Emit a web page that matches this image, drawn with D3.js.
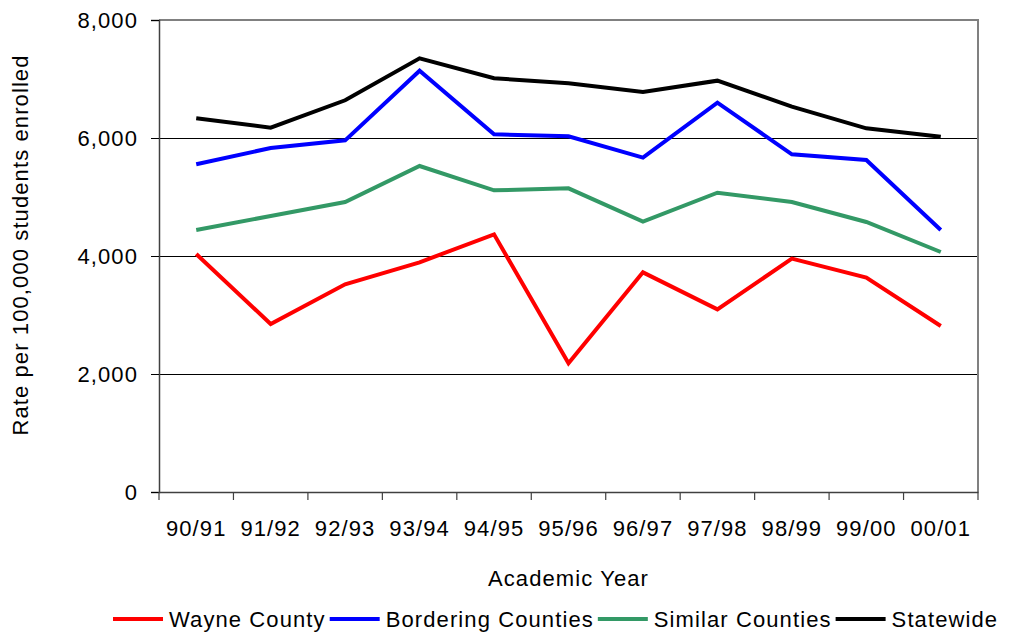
<!DOCTYPE html>
<html><head><meta charset="utf-8">
<script src="https://cdn.jsdelivr.net/npm/d3@7"></script>
<style>body{margin:0;background:#fff}svg{display:block;font-family:"Liberation Sans",Arial,sans-serif}svg text{letter-spacing:1.1px}</style>
</head><body><svg id="c" width="1014" height="632"></svg>
<script>
const years = ["90/91","91/92","92/93","93/94","94/95","95/96","96/97","97/98","98/99","99/00","00/01"];
const wayne = [4034,2847,3520,3893,4367,2181,3723,3096,3955,3633,2814];
const bordering = [5554,5831,5960,7141,6062,6028,5667,6599,5723,5627,4441];
const similar = [4441,4678,4915,5525,5113,5147,4582,5073,4915,4576,4068];
const statewide = [6334,6175,6639,7351,7012,6927,6780,6972,6531,6164,6023];
const yTicks = [0,2000,4000,6000,8000];
const seriesNames = ["Wayne County","Bordering Counties","Similar Counties","Statewide"];
const seriesColors = ["#ff0000","#0000ff","#339966","#000000"];
const seriesValues = [wayne,bordering,similar,statewide];

const svg = d3.select("#c");
const L=159, R=978, T=20, B=492;
const x = d3.scaleBand().domain(years).range([L,R]);
const y = d3.scaleLinear().domain([0,8000]).range([B,T]);
const fs = 22;
const ff = "Liberation Sans, Arial, sans-serif";

// gridlines
svg.append("g").selectAll("line").data([2000,4000,6000]).join("line")
  .attr("x1",L).attr("x2",R).attr("y1",d=>y(d)).attr("y2",d=>y(d))
  .attr("stroke","#000").attr("stroke-width",1).attr("shape-rendering","crispEdges");
// top & right border
svg.append("path").attr("d",`M${L},${T}H${R}V${B}`).attr("fill","none")
  .attr("stroke","#808080").attr("stroke-width",1.5).attr("shape-rendering","crispEdges");

// y axis
const ya = svg.append("g").attr("transform",`translate(${L},0)`)
  .call(d3.axisLeft(y).tickValues(yTicks).tickFormat(d3.format(",")).tickSize(8).tickPadding(13));
ya.select(".domain").attr("stroke","#404040").attr("stroke-width",1.5);
ya.selectAll(".tick line").attr("stroke","#000");
ya.selectAll("text").attr("font-size",fs).attr("fill","#000").attr("font-family",ff);

// x axis
const xa = svg.append("g").attr("transform",`translate(0,${B})`)
  .call(d3.axisBottom(x).tickSize(0).tickPadding(28));
xa.select(".domain").attr("stroke","#404040").attr("stroke-width",1.5);
xa.selectAll("text").attr("font-size",fs).attr("fill","#000").attr("font-family",ff);
// ticks at band boundaries
const bounds = years.map(d=>x(d)).concat([R]);
xa.append("g").selectAll("line").data(bounds).join("line")
  .attr("x1",d=>d).attr("x2",d=>d).attr("y1",0).attr("y2",8).attr("stroke","#404040").attr("stroke-width",1.2);

// lines
const line = d3.line().x((d,i)=>x(years[i])+x.bandwidth()/2).y(d=>y(d));
seriesValues.forEach((vals,k)=>{
  svg.append("path").datum(vals).attr("d",line).attr("fill","none")
    .attr("stroke",seriesColors[k]).attr("stroke-width",4).attr("stroke-linejoin","miter");
});

// axis titles
svg.append("text").attr("x",(L+R)/2).attr("y",586).attr("text-anchor","middle")
  .attr("font-size",fs).text("Academic Year");
svg.append("text").attr("transform",`translate(28,${(T+B)/2 - 11}) rotate(-90)`).attr("text-anchor","middle")
  .attr("font-size",fs).text("Rate per 100,000 students enrolled");

// legend
const lg = svg.append("g").attr("transform","translate(0,619)");
let cx = 113;
seriesNames.forEach((n,k)=>{
  lg.append("line").attr("x1",cx).attr("x2",cx+50).attr("y1",0).attr("y2",0)
    .attr("stroke",seriesColors[k]).attr("stroke-width",4);
  const t = lg.append("text").attr("x",cx+56).attr("y",7.5).attr("font-size",fs).text(n);
  cx = cx + 56 + t.node().getComputedTextLength() + 4;
});
</script></body></html>
